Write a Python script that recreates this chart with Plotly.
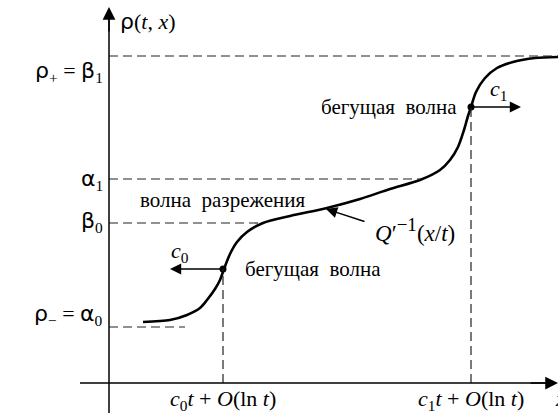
import plotly.graph_objects as go

# Profile rho(t, x): two travelling waves joined by a rarefaction wave
curve_x = [34, 61, 78, 91, 98, 106, 111, 115, 121, 128, 138, 154, 181, 218, 251,
           281, 311, 331, 341, 349, 355, 359, 362, 367, 376, 388, 404, 426, 449]
curve_y = [61, 63, 68, 75, 83, 94, 103, 114, 129, 141, 151, 160, 167, 175, 184,
           194, 203, 213, 223, 236, 253, 267, 276, 291, 305, 315, 321, 325, 326]

GREEK = "<span style='font-family:DejaVu Sans'>{}</span>"

# Levels on the rho axis
level_names = ["beta1", "alpha1", "beta0", "alpha0"]
level_values = [327, 204, 160, 56]
level_ends = [449, 311, 153, 76]
level_labels = [GREEK.format("ρ") + "<sub>+</sub> = " + GREEK.format("β") + "<sub>1</sub>",
                GREEK.format("α") + "<sub>1</sub>",
                GREEK.format("β") + "<sub>0</sub>",
                GREEK.format("ρ") + "<sub>−</sub> = " + GREEK.format("α") + "<sub>0</sub>"]
level_label_y = [311, 203, 161, 68]

# Wave front positions and the speeds
front_x = [114, 362]
front_y = [114, 276]
front_labels = ["<i>c</i><sub>0</sub><i>t</i> + <i>O</i>(ln <i>t</i>)",
                "<i>c</i><sub>1</sub><i>t</i> + <i>O</i>(ln <i>t</i>)"]
speed_labels = ["<i>c</i><sub>0</sub>", "<i>c</i><sub>1</sub>"]
speed_tips = [61, 412]

FONT = "Liberation Serif, serif"
fig = go.Figure()

fig.add_trace(go.Scatter(x=curve_x, y=curve_y, mode="lines",
                         line=dict(color="black", width=2.6, shape="spline", smoothing=0.8),
                         hoverinfo="skip"))
fig.add_trace(go.Scatter(x=front_x, y=front_y, mode="markers",
                         marker=dict(color="black", size=7), hoverinfo="skip"))

dash = "9px,5px"
for val, end in zip(level_values, level_ends):
    fig.add_shape(type="line", x0=0, x1=end, y0=val, y1=val,
                  line=dict(color="#222", width=1.2, dash=dash))
for fx, fy in zip(front_x, front_y):
    fig.add_shape(type="line", x0=fx, x1=fx, y0=0, y1=fy,
                  line=dict(color="#222", width=1.2, dash=dash))

# Axes
fig.add_shape(type="line", x0=0, x1=0, y0=-30, y1=370, line=dict(color="black", width=1.5))
fig.add_shape(type="line", x0=-29, x1=440, y0=0, y1=0, line=dict(color="black", width=1.5))


def arrow(x0, y0, x1, y1, width=1.4, size=1.6):
    fig.add_annotation(x=x1, y=y1, ax=x0, ay=y0, xref="x", yref="y", axref="x", ayref="y",
                       text="", showarrow=True, arrowhead=2, arrowsize=size,
                       arrowwidth=width, arrowcolor="black", standoff=0, startstandoff=0)


arrow(0, 350, 0, 376, 1.5, 1.7)
arrow(420, 0, 449, 0, 1.5, 1.7)
arrow(front_x[0], front_y[0], speed_tips[0], front_y[0])
arrow(front_x[1], front_y[1], speed_tips[1], front_y[1])
arrow(257, 161, 217, 174)


def label(x, y, text, xanchor="left", size=21):
    fig.add_annotation(x=x, y=y, xref="x", yref="y", text=text, showarrow=False,
                       xanchor=xanchor, yanchor="middle",
                       font=dict(family=FONT, size=size, color="black"))


label(9, 362, GREEK.format("ρ") + "(<i>t</i>, <i>x</i>)", size=22)
for txt, ly in zip(level_labels, level_label_y):
    label(-4, ly, txt, "right", size=22)
label(29, 183, "волна  разрежения")
label(134, 114, "бегущая  волна")
label(350, 276, "бегущая  волна", "right")
label(71, 131, speed_labels[0], "center", size=22)
label(389, 293, speed_labels[1], "center", size=22)
label(264, 153, "<i>Q</i>′<sup><span style='font-size:19px'>−1</span></sup>(<i>x</i>/<i>t</i>)",
      size=23)
for fx, txt in zip(front_x, front_labels):
    label(fx, -17, txt, "center", size=22)
label(444, -15, "<i>x</i>", size=22)

fig.update_layout(width=558, height=413, margin=dict(l=0, r=0, t=0, b=0),
                  plot_bgcolor="white", paper_bgcolor="white", showlegend=False,
                  xaxis=dict(range=[-109, 449], visible=False, fixedrange=True),
                  yaxis=dict(range=[-30, 383], visible=False, fixedrange=True))
fig.write_html("out.html")
